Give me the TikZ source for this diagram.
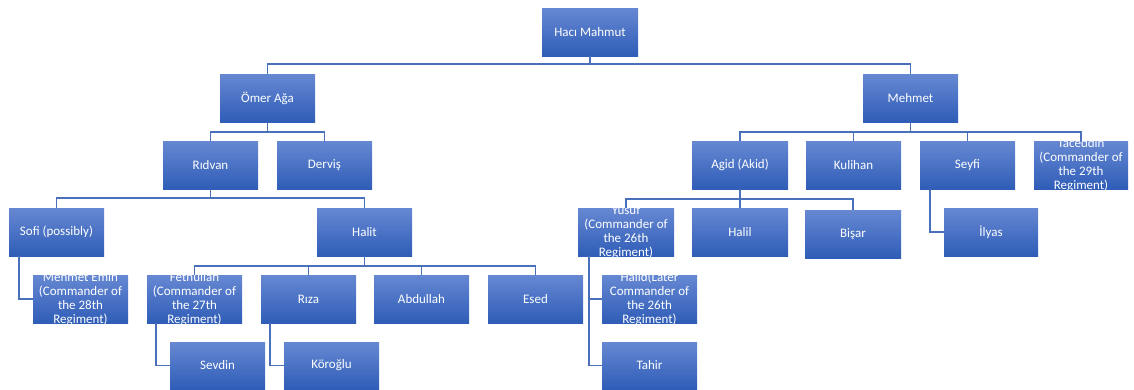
\documentclass[tikz,border=0pt]{standalone}
\usepackage{fontspec}
\setmainfont{Carlito}
\definecolor{boxtop}{HTML}{6688D2}
\definecolor{boxbot}{HTML}{2F5DB7}
\definecolor{linec}{HTML}{4A70BC}
\tikzset{
  box/.style={rectangle, inner sep=0pt, minimum width=95pt, minimum height=48pt,
    top color=boxtop, bottom color=boxbot, draw=none,
    text=white, font=\fontsize{13}{14}\selectfont, align=center},
  txt/.style={inner sep=0pt, text=white, font=\fontsize{13}{14}\selectfont, align=center},
  conn/.style={draw=linec, line width=1.6pt}
}
\begin{document}
\begin{tikzpicture}[x=1pt,y=-1pt]
\useasboundingbox (0,0) rectangle (1134,389);
% boxes
\node[box, minimum width=96pt] (hm) at (590,32) {Hacı Mahmut};
\node[box] (omer) at (267.5,98) {Ömer Ağa};
\node[box] (mehmet) at (910.5,98) {Mehmet};
\node[box] (ridvan) at (210.5,165) {Rıdvan};
\node[box] (dervis) at (324.5,165) {Derviş};
\node[box, minimum width=96pt] (agid) at (740,165) {Agid (Akid)};
\node[box] (kulihan) at (853.5,165) {Kulihan};
\node[box] (seyfi) at (967.5,165) {Seyfi};
\node[box, minimum width=94pt] (taceddin) at (1081,165) {};
\node[box] (sofi) at (56.5,232) {Sofi (possibly)};
\node[box] (halit) at (364.5,232) {Halit};
\node[box, minimum width=96pt] (yusuf) at (626,232) {};
\node[box, minimum width=96pt] (halil) at (740,232) {Halil};
\node[box, minimum width=96pt] (bisar) at (853,234) {Bişar};
\node[box, minimum width=94pt] (ilyas) at (991,232) {İlyas};
\node[box] (memin) at (80.5,299) {};
\node[box] (fethullah) at (194.5,299) {};
\node[box] (riza) at (308.5,299) {Rıza};
\node[box] (abdullah) at (421.5,299) {Abdullah};
\node[box] (esed) at (535.5,299) {Esed};
\node[box] (halid) at (649.5,299) {};
\node[box, minimum height=47pt] (sevdin) at (217.5,365.5) {Sevdin};
\node[box, minimum height=47pt] (koroglu) at (331.5,365.5) {Köroğlu};
\node[box, minimum height=47pt] (tahir) at (649.5,365.5) {Tahir};
% clipped multi-line texts
\begin{scope}
\clip (taceddin.south west) rectangle (taceddin.north east);
\node[txt] (taceddinT) at (taceddin) {Taceddin\\(Commander of\\the 29th\\Regiment)};
\end{scope}
\begin{scope}
\clip (yusuf.south west) rectangle (yusuf.north east);
\node[txt] (yusufT) at (yusuf) {Yusuf\\(Commander of\\the 26th\\Regiment)};
\end{scope}
\begin{scope}
\clip (memin.south west) rectangle (memin.north east);
\node[txt] (meminT) at (memin) {Mehmet Emin\\(Commander of\\the 28th\\Regiment)};
\end{scope}
\begin{scope}
\clip (fethullah.south west) rectangle (fethullah.north east);
\node[txt] (fethullahT) at (fethullah) {Fethullah\\(Commander of\\the 27th\\Regiment)};
\end{scope}
\begin{scope}
\clip (halid.south west) rectangle (halid.north east);
\node[txt] (halidT) at (halid) {Halid(Later\\Commander of\\the 26th\\Regiment)};
\end{scope}
% connectors (buses)
\draw[conn] (hm.south) -- ++(0,8) -| (omer.north);
\draw[conn] (hm.south) -- ++(0,8) -| (mehmet.north);
\draw[conn] (omer.south) -- ++(0,10) -| (ridvan.north);
\draw[conn] (omer.south) -- ++(0,10) -| (dervis.north);
\draw[conn] (mehmet.south) -- ++(0,10) -| (agid.north);
\draw[conn] (mehmet.south) -- ++(0,10) -| (kulihan.north);
\draw[conn] (mehmet.south) -- ++(0,10) -| (seyfi.north);
\draw[conn] (mehmet.south) -- ++(0,10) -| (taceddin.north);
\draw[conn] (ridvan.south) -- ++(0,9) -| (sofi.north);
\draw[conn] (ridvan.south) -- ++(0,9) -| (halit.north);
\draw[conn] (agid.south) -- ++(0,10) -| (yusuf.north);
\draw[conn] (agid.south) -- ++(0,10) -| (halil.north);
\draw[conn] (agid.south) -- ++(0,10) -| (bisar.north);
\draw[conn] (halit.south) -- ++(0,10) -| (fethullah.north);
\draw[conn] (halit.south) -- ++(0,10) -| (riza.north);
\draw[conn] (halit.south) -- ++(0,10) -| (abdullah.north);
\draw[conn] (halit.south) -- ++(0,10) -| (esed.north);
% side connectors
\draw[conn] ([xshift=10pt]sofi.south west) |- (memin.west);
\draw[conn] ([xshift=9pt]fethullah.south west) |- (sevdin.west);
\draw[conn] ([xshift=9pt]riza.south west) |- (koroglu.west);
\draw[conn] ([xshift=11pt]yusuf.south west) |- (halid.west);
\draw[conn] ([xshift=11pt]yusuf.south west) |- (tahir.west);
\draw[conn] ([xshift=10pt]seyfi.south west) |- (ilyas.west);
\end{tikzpicture}
\end{document}
